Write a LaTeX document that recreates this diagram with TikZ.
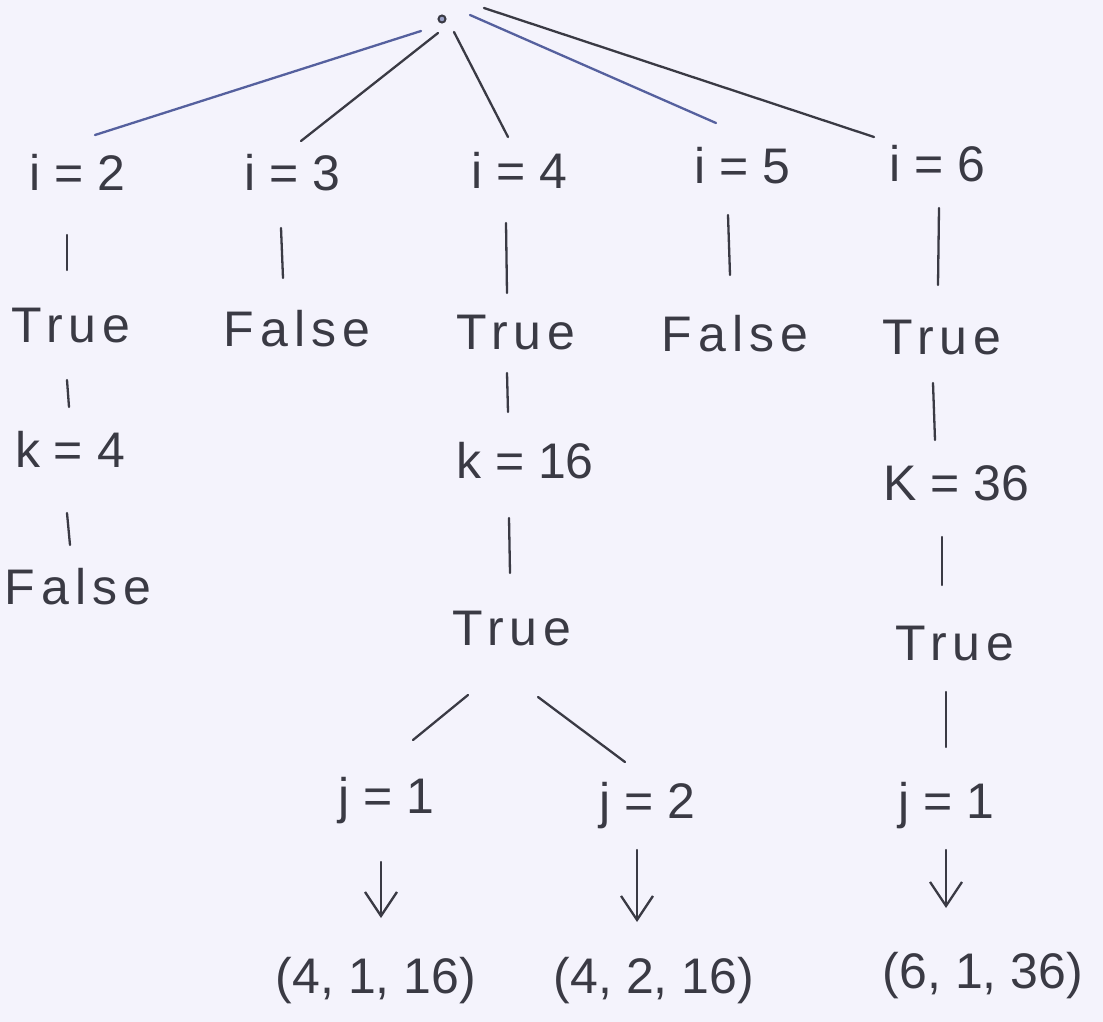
\documentclass[tikz,border=0pt]{standalone}
\usepackage{fontspec}
\setmainfont{Liberation Sans}
\newfontfamily\spacedfont[LetterSpace=12]{Liberation Sans}
\usetikzlibrary{arrows.meta}
\definecolor{paper}{HTML}{F4F3FC}
\definecolor{ink}{HTML}{3A3A44}
\definecolor{bluink}{HTML}{55609E}
\tikzset{
  lbl/.style={inner sep=0pt, text=ink, text height=37pt, text depth=0pt, font=\fontsize{50}{60}\selectfont},
  word/.style={lbl, font=\spacedfont\fontsize{50}{60}\selectfont},
  pen/.style={draw=ink, line width=2.3pt, line cap=round},
  bluepen/.style={draw=bluink, line width=2.3pt, line cap=round},
  downarrow/.style={pen, -{Straight Barb[length=24pt, width=32pt, line width=2.3pt]}},
  dotnode/.style={circle, draw=ink, fill=bluink!60, line width=2pt, minimum size=7pt, inner sep=0pt}
}
\begin{document}
\begin{tikzpicture}[x=1pt, y=-1pt]
\fill[paper] (0,0) rectangle (1103,1022);
\useasboundingbox (0,0) rectangle (1103,1022);

% root
\node[dotnode] (root) at (442,19) {};

% level i
\node[lbl] (i2) at (77,172) {i = 2};
\node[lbl] (i3) at (292,172) {i = 3};
\node[lbl] (i4) at (519,170) {i = 4};
\node[lbl] (i5) at (742,165) {i = 5};
\node[lbl] (i6) at (937,163) {i = 6};

% first results
\node[word] (t2) at (71,324) {True};
\node[word] (f3) at (297,328) {False};
\node[word] (t4) at (516,331) {True};
\node[word] (f5) at (735,333) {False};
\node[word] (t6) at (942,336) {True};

% k values
\node[lbl] (k2) at (70,449) {k = 4};
\node[lbl] (k4) at (525,460) {k = 16};
\node[lbl] (k6) at (956,482) {K = 36};

% second results
\node[word] (f2) at (78,586) {False};
\node[word] (tt4) at (512,627) {True};
\node[word] (tt6) at (955,642) {True};

% j values
\node[lbl] (j41) at (386,795) {j = 1};
\node[lbl] (j42) at (647,800) {j = 2};
\node[lbl] (j61) at (946,800) {j = 1};

% tuples
\node[lbl] (r41) at (376,975) {(4, 1, 16)};
\node[lbl] (r42) at (654,975) {(4, 2, 16)};
\node[lbl] (r61) at (983,970) {(6, 1, 36)};

% root edges
\draw[bluepen] ([shift={(-21,12)}]root.center) -- ([shift={(18,-37)}]i2.center);
\draw[pen] ([shift={(-4,14)}]root.center) -- ([shift={(9,-31)}]i3.center);
\draw[pen] ([shift={(12,13)}]root.center) -- ([shift={(-11,-33)}]i4.center);
\draw[bluepen] ([shift={(28,-4)}]root.center) -- ([shift={(-26,-42)}]i5.center);
\draw[pen] ([shift={(42,-11)}]root.center) -- ([shift={(-63,-26)}]i6.center);

% vertical stems
\draw[pen] ([shift={(-10,63)}]i2.center) -- ([shift={(-4,-54)}]t2.center);
\draw[pen] ([shift={(-11,56)}]i3.center) -- ([shift={(-14,-50)}]f3.center);
\draw[pen] ([shift={(-13,53)}]i4.center) -- ([shift={(-9,-38)}]t4.center);
\draw[pen] ([shift={(-14,50)}]i5.center) -- ([shift={(-5,-58)}]f5.center);
\draw[pen] ([shift={(2,45)}]i6.center) -- ([shift={(-4,-51)}]t6.center);
\draw[pen] ([shift={(-4,56)}]t2.center) -- ([shift={(-1,-42)}]k2.center);
\draw[pen] ([shift={(-3,64)}]k2.center) -- ([shift={(-8,-41)}]f2.center);
\draw[pen] ([shift={(-9,42)}]t4.center) -- ([shift={(-17,-48)}]k4.center);
\draw[pen] ([shift={(-16,58)}]k4.center) -- ([shift={(-2,-54)}]tt4.center);
\draw[pen] ([shift={(-9,47)}]t6.center) -- ([shift={(-21,-42)}]k6.center);
\draw[pen] ([shift={(-14,55)}]k6.center) -- ([shift={(-13,-57)}]tt6.center);
\draw[pen] ([shift={(-44,68)}]tt4.center) -- ([shift={(27,-55)}]j41.center);
\draw[pen] ([shift={(26,70)}]tt4.center) -- ([shift={(-22,-38)}]j42.center);
\draw[pen] ([shift={(-9,50)}]tt6.center) -- ([shift={(0,-53)}]j61.center);

% arrows
\draw[downarrow] ([shift={(-5,67)}]j41.center) -- ([shift={(5,-57)}]r41.center);
\draw[downarrow] ([shift={(-10,50)}]j42.center) -- ([shift={(-17,-53)}]r42.center);
\draw[downarrow] ([shift={(0,50)}]j61.center) -- ([shift={(-37,-62)}]r61.center);
\end{tikzpicture}
\end{document}
